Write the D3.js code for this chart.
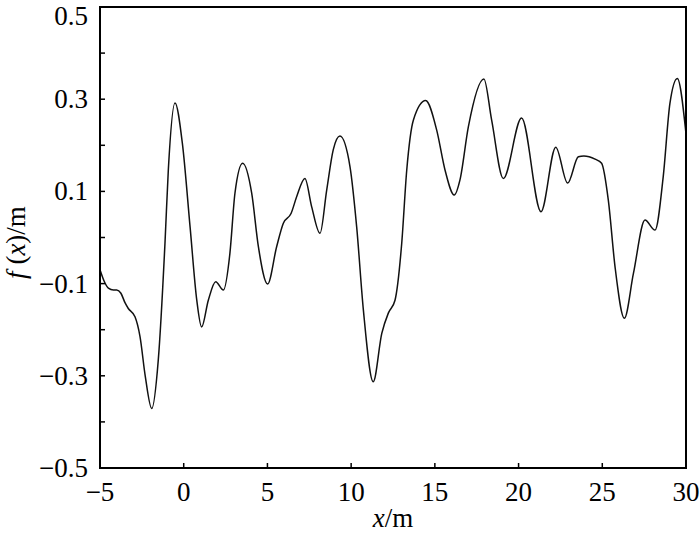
<!DOCTYPE html>
<html><head><meta charset="utf-8">
<script src="https://cdn.jsdelivr.net/npm/d3@7"></script>
<style>body{margin:0;background:#fff;} svg{display:block;} text{font-family:"Times New Roman","Liberation Serif",Tinos,"DejaVu Serif",serif;}</style>
</head><body>
<script>
const xValues = [-5.00,-4.75,-4.50,-4.20,-4.00,-3.75,-3.50,-3.31,-2.91,-2.61,-2.30,-1.91,-1.52,-1.12,-0.92,-0.52,-0.08,0.38,0.78,1.07,1.47,1.91,2.37,2.76,3.06,3.52,4.06,4.46,5.01,5.55,5.95,6.41,6.75,7.24,7.64,8.14,8.54,8.93,9.33,9.93,10.33,10.73,11.32,11.83,12.22,12.62,13.02,13.32,13.72,14.45,15.11,15.61,16.16,16.50,17.00,17.93,18.39,19.09,20.18,21.34,22.22,22.93,23.57,23.90,24.57,24.96,25.36,25.76,26.32,26.86,27.55,28.15,28.64,29.04,29.48,30.00];
const fValues = [-0.070,-0.095,-0.110,-0.114,-0.114,-0.121,-0.142,-0.154,-0.172,-0.215,-0.300,-0.371,-0.266,-0.013,0.146,0.292,0.204,0.023,-0.136,-0.194,-0.136,-0.096,-0.114,-0.034,0.096,0.161,0.096,-0.020,-0.101,-0.020,0.031,0.052,0.089,0.128,0.067,0.009,0.103,0.190,0.220,0.154,0.023,-0.157,-0.313,-0.208,-0.164,-0.136,-0.013,0.146,0.255,0.297,0.233,0.146,0.092,0.125,0.240,0.344,0.255,0.128,0.259,0.056,0.196,0.118,0.175,0.177,0.170,0.161,0.081,-0.063,-0.175,-0.078,0.038,0.016,0.132,0.291,0.345,0.225];
const xTicks = [-5,0,5,10,15,20,25,30];
const yTicks = [-0.5,-0.4,-0.3,-0.2,-0.1,0,0.1,0.2,0.3,0.4,0.5];
const yLabels = [-0.5,-0.3,-0.1,0.1,0.3,0.5];

const W=700,H=533, L=100,R=686,T=7,B=468;
const svg=d3.select("body").append("svg").attr("width",W).attr("height",H);
const x=d3.scaleLinear().domain([-5,30]).range([L,R]);
const y=d3.scaleLinear().domain([-0.5,0.5]).range([B,T]);
const FS=27;

// curve
const data=xValues.map((v,i)=>[v,fValues[i]]);
svg.append("path").datum(data)
  .attr("d",d3.line().x(d=>x(d[0])).y(d=>y(d[1])).curve(d3.curveMonotoneX))
  .attr("fill","none").attr("stroke","#111").attr("stroke-width",1.5);

// ticks
const g=svg.append("g");
g.selectAll(".xt").data(xTicks.slice(1,-1)).enter().append("line")
  .attr("x1",d=>x(d)).attr("x2",d=>x(d)).attr("y1",B).attr("y2",B-5)
  .attr("stroke","#000").attr("stroke-width",1.5);
g.selectAll(".yt").data(yTicks.slice(1,-1)).enter().append("line")
  .attr("x1",L).attr("x2",L+5).attr("y1",d=>y(d)).attr("y2",d=>y(d))
  .attr("stroke","#000").attr("stroke-width",1.5);

// frame
svg.append("rect").attr("x",L).attr("y",T).attr("width",R-L).attr("height",B-T)
  .attr("fill","none").attr("stroke","#000").attr("stroke-width",2);

// labels
const fmt=v=>(v<0?"\u2212":"")+d3.format(".1f")(Math.abs(v));
svg.selectAll(".yl").data(yLabels).enter().append("text")
  .attr("x",88).attr("y",d=>Math.max(y(d)+9,25)).attr("text-anchor","end")
  .attr("font-size",FS).text(fmt);
svg.selectAll(".xl").data(xTicks).enter().append("text")
  .attr("x",d=>x(d)).attr("y",501).attr("text-anchor","middle")
  .attr("font-size",FS)
  .text(d=>(d<0?"\u2212":"")+Math.abs(d));

// axis titles
const xt=svg.append("text").attr("x",x(12.5)).attr("y",527).attr("text-anchor","middle")
  .attr("font-size",FS);
xt.append("tspan").attr("font-style","italic").text("x");
xt.append("tspan").text("/m");

const yt=svg.append("text").attr("transform","translate(25,"+(y(0)+5)+") rotate(-90)")
  .attr("text-anchor","middle").attr("font-size",FS);
yt.append("tspan").attr("font-style","italic").text("f");
yt.append("tspan").text(" (");
yt.append("tspan").attr("font-style","italic").text("x");
yt.append("tspan").text(")/m");
</script>
</body></html>
